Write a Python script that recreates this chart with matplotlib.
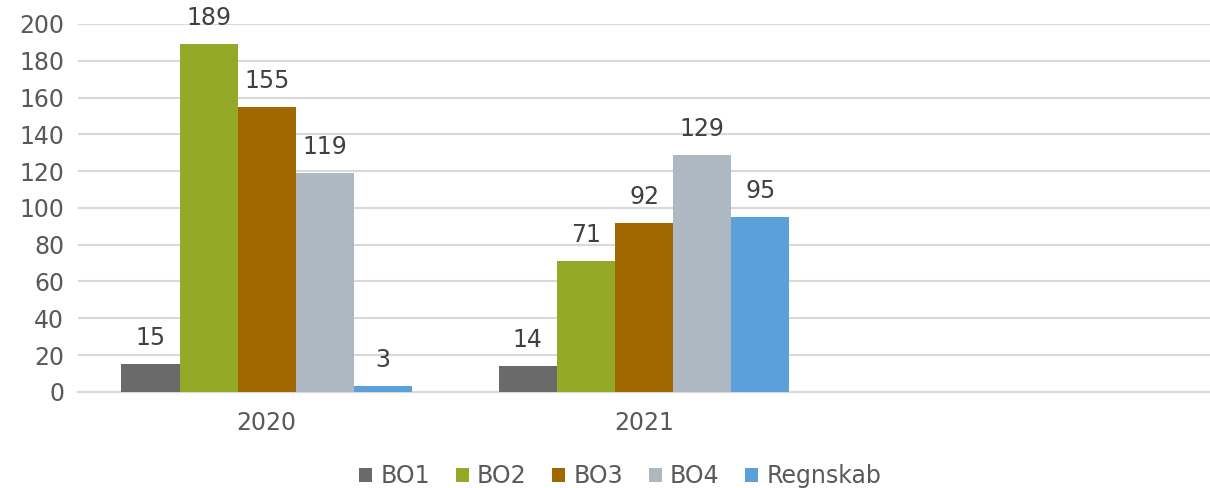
import numpy as np
import matplotlib.pyplot as plt

# === Data ===
categories = ["2020", "2021", ""]
series_names = ["BO1", "BO2", "BO3", "BO4", "Regnskab"]
bo1 = [15, 14, None]
bo2 = [189, 71, None]
bo3 = [155, 92, None]
bo4 = [119, 129, None]
regnskab = [3, 95, None]
colors = ["#6a6a6a", "#94a928", "#a26800", "#aeb8c2", "#5ba0db"]

series = [bo1, bo2, bo3, bo4, regnskab]
tick_col = "#595959"
label_col = "#404040"
grid_col = "#d9d9d9"
fs = 17

plt.rcParams["font.family"] = ["DejaVu Sans"]

fig = plt.figure(figsize=(12.1, 4.88), dpi=100)
ax = fig.add_axes([0.0645, 0.197, 0.9355, 0.754])

x = np.arange(len(categories))
width = 0.77 / len(series)
for i, (name, vals, col) in enumerate(zip(series_names, series, colors)):
    xs = [xi for xi, v in zip(x, vals) if v is not None]
    ys = [v for v in vals if v is not None]
    pos = np.array(xs) + (i - 2) * width
    bars = ax.bar(pos, ys, width, color=col, label=name, zorder=3)
    ax.bar_label(bars, padding=10, fontsize=fs, color=label_col)

ax.set_xlim(-0.5, len(categories) - 0.5)
ax.set_ylim(0, 200)
ax.set_yticks(range(0, 201, 20))
ax.set_xticks(x[:2])
ax.set_xticklabels(categories[:2])
ax.tick_params(axis="both", length=0, labelsize=fs, labelcolor=tick_col)
ax.tick_params(axis="x", pad=14)
ax.tick_params(axis="y", pad=10)
ax.grid(axis="y", color=grid_col, linewidth=1.5, zorder=0)
for s in ["top", "right", "left"]:
    ax.spines[s].set_visible(False)
ax.spines["bottom"].set_color(grid_col)
ax.spines["bottom"].set_linewidth(1.5)

ax.legend(loc="center", bbox_to_anchor=(0.479, -0.23), ncol=5, frameon=False,
          fontsize=fs, labelcolor=tick_col, handlelength=0.55, handleheight=0.55,
          handletextpad=0.34, columnspacing=1.1, borderaxespad=0)

plt.savefig("out.png", dpi=100)
